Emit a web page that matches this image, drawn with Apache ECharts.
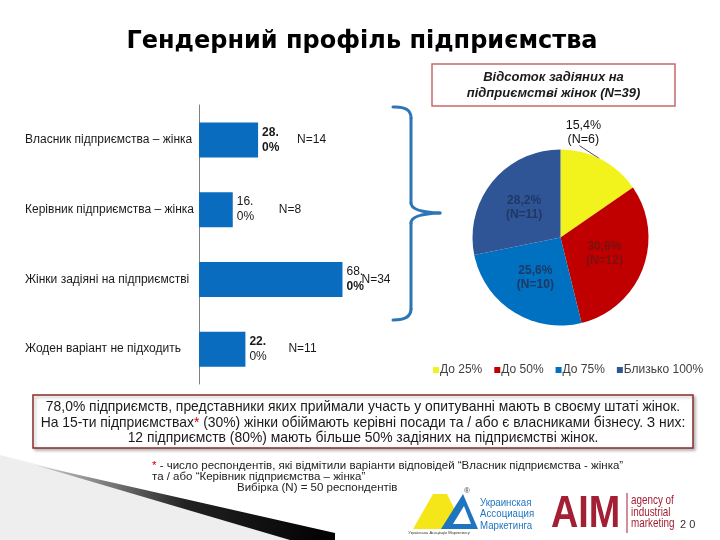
<!DOCTYPE html>
<html>
<head>
<meta charset="utf-8">
<script src="https://cdn.jsdelivr.net/npm/echarts@6/dist/echarts.min.js"></script>
<style>html,body{margin:0;padding:0;background:#fff;}#c{width:720px;height:540px;}</style>
</head>
<body>
<div id="c"></div>
<script>
// ---- data ----
const barCategories = ['Власник підприємства – жінка', 'Керівник підприємства – жінка', 'Жінки задіяні на підприємстві', 'Жоден варіант не підходить'];
const barValues = [28.0, 16.0, 68.0, 22.0];
const barCounts = [14, 8, 34, 11];
const pieCategories = ['До 25%', 'До 50%', 'До 75%', 'Близько 100%'];
const pieCounts = [6, 12, 10, 11];

// ---- styles ----
const FONT = "'Liberation Sans', Arial, sans-serif";
const countLabelOffsets = [39, 46, 19, 43];
const valueLabelBold = [[true, true], [false, false], [false, true], [true, false]];
const pieColors = ['#F2F21C', '#C00000', '#0070C0', '#2F5597'];
const pieLabelColors = ['#111', '#7a1010', '#1f3864', '#1f3864'];

const chart = echarts.init(document.getElementById('c'), null, {renderer: 'canvas'});
const pieTotal = pieCounts.reduce((a, b) => a + b, 0);

function splitPct(v) {
  const s = v.toFixed(1) + '%';
  const i = s.indexOf('.') + 1;
  return [s.slice(0, i), s.slice(i)];
}

const braceStyle = {stroke: '#2E75B6', lineWidth: 3, fill: 'none', lineCap: 'round'};

const option = {
  backgroundColor: '#ffffff',
  animation: false,
  textStyle: {fontFamily: FONT},
  title: {
    text: 'Гендерний профіль підприємства',
    left: 357, top: 25, textAlign: 'center',
    textStyle: {fontFamily: "'DejaVu Sans', " + FONT, fontWeight: 'bold', fontSize: 24, color: '#000'}
  },
  legend: {
    data: pieCategories,
    left: 428, top: 359,
    itemWidth: 6, itemHeight: 6, itemGap: 12,
    icon: 'rect',
    textStyle: {fontSize: 12, color: '#404040', fontFamily: FONT, padding: [0, 0, 0, -4]}
  },
  grid: {left: 199, top: 105, width: 211, height: 279},
  xAxis: {type: 'value', min: 0, max: 100, show: false},
  yAxis: {
    type: 'category', inverse: true, data: barCategories,
    axisLine: {lineStyle: {color: '#808080', width: 1}},
    axisTick: {length: 5, lineStyle: {color: '#808080'}},
    axisLabel: {align: 'left', margin: 174, fontSize: 12, color: '#1a1a1a', fontFamily: FONT}
  },
  series: [
    {
      type: 'bar', barWidth: 35, z: 2,
      itemStyle: {color: '#0A6CBE'},
      data: barValues.map((v, i) => ({
        value: v,
        label: {
          show: true, position: 'right', distance: 4,
          formatter: () => { const p = splitPct(v); return '{' + (valueLabelBold[i][0] ? 'b' : 'n') + '|' + p[0] + '}\n{' + (valueLabelBold[i][1] ? 'b' : 'n') + '|' + p[1] + '}'; },
          rich: {
            b: {fontSize: 12, fontWeight: 'bold', color: '#1a1a1a', lineHeight: 15, fontFamily: FONT},
            n: {fontSize: 12, fontWeight: 'normal', color: '#1a1a1a', lineHeight: 15, fontFamily: FONT}
          }
        }
      }))
    },
    {
      type: 'bar', barWidth: 35, barGap: '-100%', z: 3, silent: true,
      itemStyle: {color: 'rgba(0,0,0,0)'},
      data: barValues.map((v, i) => ({
        value: v,
        label: {
          show: true, position: 'right', distance: 0, offset: [countLabelOffsets[i], 0],
          formatter: 'N=' + barCounts[i],
          fontSize: 12, color: '#1a1a1a', fontFamily: FONT
        }
      }))
    },
    {
      type: 'pie', center: [560.5, 237.5], radius: 88,
      startAngle: 90, clockwise: true,
      itemStyle: {borderWidth: 0},
      label: {show: true, position: 'inside', fontSize: 12, fontWeight: 'bold', lineHeight: 14, fontFamily: FONT},
      labelLine: {show: false},
      labelLayout: function (p) {
        if (p.dataIndex !== 0) return;
        const e = p.labelLinePoints ? p.labelLinePoints[0] : null;
        if (!e) return;
        return {
          x: e[0] - 18, y: e[1] - 27, align: 'center', verticalAlign: 'middle',
          labelLinePoints: [[e[0] - 2, e[1] - 1], [e[0] - 22, e[1] - 14], [e[0] - 22, e[1] - 14]]
        };
      },
      data: pieCounts.map((n, i) => ({
        name: pieCategories[i], value: n,
        itemStyle: {color: pieColors[i]},
        label: i === 0 ? {
          position: 'outside', fontWeight: 'normal', color: '#111', fontSize: 12.5,
          formatter: (p) => (p.value / pieTotal * 100).toFixed(1).replace('.', ',') + '%\n(N=' + p.value + ')'
        } : {
          color: pieLabelColors[i],
          formatter: (p) => (p.value / pieTotal * 100).toFixed(1).replace('.', ',') + '%\n(N=' + p.value + ')'
        },
        labelLine: i === 0 ? {show: true, length: 10, length2: 0, lineStyle: {color: '#222', width: 0.8}} : {show: false}
      }))
    }
  ],
  graphic: [
    // curly brace
    {type: 'bezierCurve', shape: {x1: 393, y1: 107, x2: 411, y2: 118, cpx1: 411, cpy1: 106}, style: braceStyle},
    {type: 'line', shape: {x1: 411, y1: 118, x2: 411, y2: 203}, style: braceStyle},
    {type: 'bezierCurve', shape: {x1: 411, y1: 203, x2: 440, y2: 213, cpx1: 411, cpy1: 212}, style: braceStyle},
    {type: 'bezierCurve', shape: {x1: 440, y1: 213, x2: 411, y2: 223, cpx1: 411, cpy1: 214}, style: braceStyle},
    {type: 'line', shape: {x1: 411, y1: 223, x2: 411, y2: 309}, style: braceStyle},
    {type: 'bezierCurve', shape: {x1: 411, y1: 309, x2: 393, y2: 320, cpx1: 411, cpy1: 320}, style: braceStyle},
    // pie title box
    {type: 'rect', shape: {x: 432, y: 64, width: 243, height: 42}, style: {fill: '#fff', stroke: '#C9686A', lineWidth: 1.5}},
    {type: 'text', x: 553.5, y: 85, style: {text: 'Відсоток задіяних на\nпідприємстві жінок (N=39)', align: 'center', verticalAlign: 'middle',
      font: 'italic bold 13px ' + FONT, fill: '#1a1a1a', lineHeight: 16}},
    // bottom summary box
    {type: 'rect', shape: {x: 33, y: 395, width: 660, height: 53}, style: {fill: '#fff', stroke: '#8B2A2A', lineWidth: 1.5,
      shadowBlur: 3, shadowOffsetX: 2, shadowOffsetY: 2, shadowColor: 'rgba(0,0,0,0.25)'}},
    {type: 'text', x: 363, y: 423, style: {
      text: '78,0% підприємств, представники яких приймали участь у опитуванні мають в своєму штаті жінок.\nНа 15-ти підприємствах{r|*} (30%) жінки обіймають керівні посади та / або є власниками бізнесу. З них:\n12 підприємств (80%) мають більше 50% задіяних на підприємстві жінок.',
      align: 'center', verticalAlign: 'middle', font: '13.9px ' + FONT, fill: '#1a1a1a', lineHeight: 15.5,
      rich: {r: {fill: '#d00000', font: '13.9px ' + FONT}}}},
    // footnotes
    {type: 'text', x: 152, y: 466, style: {text: '{r|*} - число респондентів, які відмітили варіанти відповідей “Власник підприємства - жінка”',
      verticalAlign: 'middle', font: '11.5px ' + FONT, fill: '#222', rich: {r: {fill: '#d00000', font: '11.5px ' + FONT}}}},
    {type: 'text', x: 152, y: 477, style: {text: 'та / або “Керівник підприємства – жінка”', verticalAlign: 'middle', font: '11.5px ' + FONT, fill: '#222'}},
    {type: 'text', x: 237, y: 488, style: {text: 'Вибірка (N) = 50 респондентів', verticalAlign: 'middle', font: '11.5px ' + FONT, fill: '#222'}},
    // decorative wedge bottom-left
    {type: 'polygon', z: -1, shape: {points: [[0, 455], [335, 540], [0, 540]]}, style: {fill: '#eeeeee'}},
    {type: 'polygon', shape: {points: [[35, 465], [335, 533], [335, 540], [290, 540]]},
     style: {fill: {type: 'linear', x: 0, y: 0, x2: 1, y2: 0, colorStops: [{offset: 0, color: '#cfcfcf'}, {offset: 0.5, color: '#222'}, {offset: 1, color: '#000'}]}}},
    // UAM logo
    {type: 'polygon', shape: {points: [[413, 529], [433, 494], [447, 494], [455, 510], [444, 529]]}, style: {fill: '#F5E61A'}},
    {type: 'polygon', shape: {points: [[441, 529], [463, 494], [478, 529]]}, style: {fill: '#1F74BF'}},
    {type: 'polygon', shape: {points: [[453, 524], [464, 506], [471, 524]]}, style: {fill: '#fff'}},
    {type: 'text', x: 467, y: 491, style: {text: '®', align: 'center', verticalAlign: 'middle', font: '8px ' + FONT, fill: '#444'}},
    {type: 'text', x: 439, y: 533, style: {text: 'Українська Асоціація Маркетингу', align: 'center', verticalAlign: 'middle', font: '4px ' + FONT, fill: '#333'}},
    {type: 'text', x: 480, y: 514, scaleX: 0.88, style: {text: 'Украинская\nАссоциация\nМаркетинга', verticalAlign: 'middle', font: '11px ' + FONT, fill: '#1F74BF', lineHeight: 11.5}},
    // AIM logo
    {type: 'text', x: 551, y: 515, scaleX: 0.84, style: {text: 'AIM', verticalAlign: 'middle', font: 'bold 45px ' + FONT, fill: '#A31F34'}},
    {type: 'line', shape: {x1: 627, y1: 493, x2: 627, y2: 533}, style: {stroke: '#A31F34', lineWidth: 1}},
    {type: 'text', x: 631, y: 512, scaleX: 0.76, style: {text: 'agency of\nindustrial\nmarketing', verticalAlign: 'middle', font: '13px ' + FONT, fill: '#A31F34', lineHeight: 11.5}},
    {type: 'text', x: 680, y: 525, style: {text: '2 0', verticalAlign: 'middle', font: '11px ' + FONT, fill: '#333'}}
  ]
};
chart.setOption(option);
</script>
</body>
</html>
